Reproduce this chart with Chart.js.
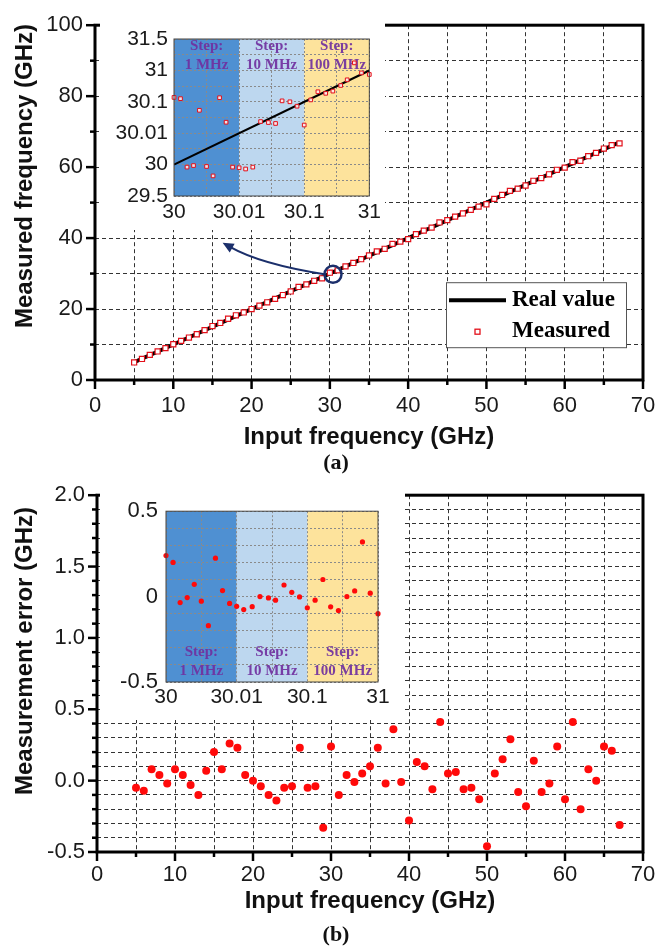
<!DOCTYPE html>
<html>
<head>
<meta charset="utf-8">
<script src="https://cdn.jsdelivr.net/npm/chart.js@4.4.1/dist/chart.umd.min.js"></script>
<style>
  html, body { margin: 0; padding: 0; background: #fff; }
  #wrap { position: relative; width: 670px; height: 948px; overflow: hidden; background: #fff; }
  canvas { position: absolute; }
  #insetA, #insetB { background: #fff; }
</style>
</head>
<body>
<div id="wrap">
  <canvas id="chartB" width="670" height="478" style="left:0;top:470px;width:670px;height:478px"></canvas>
  <canvas id="chartA" width="670" height="480" style="left:0;top:0;width:670px;height:480px"></canvas>
  <canvas id="insetA" width="285" height="212" style="left:100px;top:18px;width:285px;height:212px"></canvas>
  <canvas id="insetB" width="305" height="230" style="left:100px;top:490px;width:305px;height:230px"></canvas>
</div>
<script>
// ---- data ----
const inputFreq = [5,6,7,8,9,10,11,12,13,14,15,16,17,18,19,20,21,22,23,24,25,26,27,28,29,30,31,32,33,34,35,36,
  37,38,39,40,41,42,43,44,45,46,47,48,49,50,51,52,53,54,55,56,57,58,59,60,61,62,63,64,65,66,67];
const measuredFreq = [4.95,5.93,7.08,8.04,8.98,10.08,11.04,11.97,12.9,14.07,15.2,16.08,17.26,18.23,19.04,20,
  20.96,21.9,22.86,23.95,24.96,26.23,26.95,27.96,28.67,30.24,30.9,32.04,32.99,34.05,35.1,36.23,36.98,38.36,
  38.99,39.72,41.13,42.1,42.94,44.41,45.05,46.06,46.94,47.95,48.87,49.54,51.05,52.15,53.29,53.92,54.82,56.14,
  56.92,57.98,59.24,59.87,61.41,61.8,63.08,64,65.24,66.21,66.69];
const measError = [-0.05,-0.07,0.08,0.04,-0.02,0.08,0.04,-0.03,-0.10,0.07,0.20,0.08,0.26,0.23,0.04,0.00,-0.04,
  -0.10,-0.14,-0.05,-0.04,0.23,-0.05,-0.04,-0.33,0.24,-0.10,0.04,-0.01,0.05,0.10,0.23,-0.02,0.36,-0.01,-0.28,
  0.13,0.10,-0.06,0.41,0.05,0.06,-0.06,-0.05,-0.13,-0.46,0.05,0.15,0.29,-0.08,-0.18,0.14,-0.08,-0.02,0.24,
  -0.13,0.41,-0.20,0.08,0.00,0.24,0.21,-0.31];
const realX = [5, 67];
const realY = [5, 67];

// insets: x is an index along the segmented axis (0..3), ticks below
const insetXTicks = ['30', '30.01', '30.1', '31'];
const insetAYTicks = ['29.5', '30', '30.01', '30.1', '31', '31.5'];
const bandEdges = [0, 1, 2, 3];
const bandLabels = ['1 MHz', '10 MHz', '100 MHz'];
const bandColors = ['#4f90d2', '#bdd7ef', '#fde39c'];

const insetAX = [0,0.1,0.2,0.3,0.39,0.5,0.6,0.7,0.8,0.9,1.0,1.1,1.21,1.33,1.45,1.56,1.66,1.78,1.89,2.0,2.1,
  2.21,2.33,2.44,2.56,2.66,2.77,2.88,3.0];
const insetAY = [3.14,3.10,0.92,0.97,2.73,0.94,0.64,3.13,2.35,0.92,0.90,0.86,0.92,2.37,2.34,2.31,3.03,3.00,
  2.86,2.26,3.06,3.32,3.27,3.34,3.52,3.70,4.24,3.92,3.87];
const insetARealX = [0, 3];
const insetARealY = [1, 4];

const insetBX = [0,0.1,0.2,0.3,0.4,0.5,0.6,0.7,0.8,0.9,1.0,1.1,1.22,1.33,1.45,1.55,1.67,1.78,1.89,2.0,2.11,
  2.22,2.33,2.44,2.56,2.67,2.78,2.89,3.0];
const insetBY = [0.24,0.20,-0.035,-0.006,0.072,-0.027,-0.17,0.225,0.035,-0.04,-0.057,-0.076,-0.059,0,-0.008,
  -0.021,0.068,0.025,-0.002,-0.066,-0.021,0.10,-0.06,-0.082,0,0.033,0.32,0.02,-0.10];

const SANS = "'Liberation Sans', Arial, sans-serif";
const SERIF = "'Liberation Serif', 'Times New Roman', serif";
Chart.defaults.font.family = SANS;
Chart.defaults.color = '#1a1a1a';

const pts = (xs, ys) => xs.map((x, i) => ({ x, y: ys[i] }));

// frame box + tick marks
const frame = {
  id: 'frame',
  afterDraw(chart, args, o) {
    const { ctx, chartArea: a, scales: { x, y } } = chart;
    ctx.save();
    ctx.strokeStyle = o.color;
    ctx.lineWidth = o.width;
    ctx.strokeRect(a.left, a.top, a.right - a.left, a.bottom - a.top);
    if (o.major) {
      ctx.lineWidth = 2.5;
      x.ticks.forEach(t => {
        const p = x.getPixelForValue(t.value);
        const len = t.label ? o.major : o.minor;
        ctx.beginPath(); ctx.moveTo(p, a.bottom); ctx.lineTo(p, a.bottom + len); ctx.stroke();
      });
      y.ticks.forEach(t => {
        const p = y.getPixelForValue(t.value);
        const len = t.label ? o.major : o.minor;
        ctx.beginPath(); ctx.moveTo(a.left, p); ctx.lineTo(a.left - len, p); ctx.stroke();
      });
    }
    ctx.restore();
  }
};

// free text: axis titles and panel tags
const texts = {
  id: 'texts',
  afterDraw(chart, args, o) {
    const { ctx } = chart;
    (o.items || []).forEach(t => {
      ctx.save();
      ctx.font = t.font;
      ctx.fillStyle = t.color || '#111';
      ctx.textAlign = 'center';
      ctx.textBaseline = 'middle';
      ctx.translate(t.x, t.y);
      if (t.rot) ctx.rotate(t.rot);
      ctx.fillText(t.text, 0, 0);
      ctx.restore();
    });
  }
};

// coloured step bands for the insets
const bands = {
  id: 'bands',
  beforeDraw(chart, args, o) {
    const { ctx, chartArea: a, scales: { x } } = chart;
    ctx.save();
    for (let i = 0; i < bandColors.length; i++) {
      const x0 = x.getPixelForValue(bandEdges[i]);
      const x1 = x.getPixelForValue(bandEdges[i + 1]);
      ctx.fillStyle = bandColors[i];
      ctx.fillRect(x0, a.top, x1 - x0, a.bottom - a.top);
    }
    ctx.restore();
  },
  beforeDatasetsDraw(chart, args, o) {
    const { ctx, chartArea: a, scales: { x } } = chart;
    ctx.save();
    ctx.font = 'bold 15px ' + SERIF;
    ctx.fillStyle = 'rgba(112,48,160,0.92)';
    ctx.textAlign = 'center';
    ctx.textBaseline = 'middle';
    for (let i = 0; i < bandLabels.length; i++) {
      const cx = (x.getPixelForValue(bandEdges[i]) + x.getPixelForValue(bandEdges[i + 1])) / 2;
      const y0 = o.top ? a.top + 7 : a.bottom - 30;
      ctx.fillText('Step:', cx, y0);
      ctx.fillText(bandLabels[i], cx, y0 + 19);
    }
    ctx.restore();
  }
};

// zoom circle + curved arrow, and the legend box of panel (a)
const annotate = {
  id: 'annotate',
  afterDatasetsDraw(chart, args, o) {
    const { ctx, chartArea: a, scales: { x, y } } = chart;
    const cx = x.getPixelForValue(o.circle[0]), cy = y.getPixelForValue(o.circle[1]);
    const tx = x.getPixelForValue(o.arrowTo[0]), ty = y.getPixelForValue(o.arrowTo[1]);
    const qx = x.getPixelForValue(o.bend[0]), qy = y.getPixelForValue(o.bend[1]);
    ctx.save();
    ctx.strokeStyle = '#1b2f6b';
    ctx.fillStyle = '#1b2f6b';
    ctx.lineWidth = 2.5;
    ctx.beginPath(); ctx.arc(cx, cy, 8.5, 0, Math.PI * 2); ctx.stroke();
    const ang = Math.atan2(ty - qy, tx - qx);
    const bx = tx - 9 * Math.cos(ang), by = ty - 9 * Math.sin(ang);
    ctx.lineWidth = 2;
    ctx.beginPath(); ctx.moveTo(cx - 8.5, cy); ctx.quadraticCurveTo(qx, qy, bx, by); ctx.stroke();
    ctx.beginPath();
    ctx.moveTo(tx, ty);
    ctx.lineTo(tx - 11 * Math.cos(ang) + 5 * Math.sin(ang), ty - 11 * Math.sin(ang) - 5 * Math.cos(ang));
    ctx.lineTo(tx - 11 * Math.cos(ang) - 5 * Math.sin(ang), ty - 11 * Math.sin(ang) + 5 * Math.cos(ang));
    ctx.closePath(); ctx.fill();

    // legend
    const ds = chart.data.datasets;
    const lx = a.right - 197, ly = a.top + 257;
    ctx.fillStyle = '#fff';
    ctx.fillRect(lx, ly, 180, 65);
    ctx.strokeStyle = '#555';
    ctx.lineWidth = 1;
    ctx.strokeRect(lx + 0.5, ly + 0.5, 180, 65);
    ctx.font = 'bold 23px ' + SERIF;
    ctx.textBaseline = 'middle';
    ctx.textAlign = 'left';
    ctx.fillStyle = '#000';
    ctx.strokeStyle = '#000';
    ctx.lineWidth = 4;
    ctx.beginPath(); ctx.moveTo(lx + 3, ly + 18); ctx.lineTo(lx + 60, ly + 18); ctx.stroke();
    ctx.fillText(ds[1].label, lx + 66, ly + 18);
    ctx.strokeStyle = ds[0].borderColor;
    ctx.lineWidth = 1.3;
    ctx.strokeRect(lx + 29, ly + 47, 5, 5);
    ctx.fillText(ds[0].label, lx + 66, ly + 49);
    ctx.restore();
  }
};

const fixW = w => s => { s.width = w; };
const fixH = h => s => { s.height = h; };

const gridMain = { color: '#333', lineWidth: 1, drawTicks: false };
const dashMain = { display: false, dash: [4, 3] };

// ---- panel (a) ----
new Chart(document.getElementById('chartA'), {
  type: 'scatter',
  data: {
    datasets: [
      {
        label: 'Measured',
        data: pts(inputFreq, measuredFreq),
        pointStyle: 'rect',
        pointRadius: 3.6,
        borderColor: '#e3101a',
        backgroundColor: '#ffffff',
        borderWidth: 1.2,
        order: 1
      },
      {
        label: 'Real value',
        type: 'line',
        data: pts(realX, realY),
        borderColor: '#000',
        borderWidth: 4,
        pointRadius: 0,
        order: 2
      }
    ]
  },
  options: {
    responsive: false,
    animation: false,
    events: [],
    layout: { padding: { top: 16, right: 27, left: 0, bottom: 0 } },
    plugins: {
      legend: { display: false },
      tooltip: { enabled: false },
      frame: { color: '#000', width: 3, major: 9, minor: 5 },
      annotate: { circle: [30.4, 29.8], arrowTo: [16.3, 38.7], bend: [21.1, 32.7] },
      texts: {
        items: [
          { text: 'Input frequency (GHz)', x: 369, y: 437, font: 'bold 24px ' + SANS },
          { text: 'Measured frequency (GHz)', x: 25, y: 176, rot: -Math.PI / 2, font: 'bold 24px ' + SANS },
          { text: '(a)', x: 336, y: 463, font: 'bold 22px ' + SERIF }
        ]
      }
    },
    scales: {
      x: {
        type: 'linear', min: 0, max: 70,
        afterFit: fixH(100),
        grid: gridMain, border: dashMain,
        ticks: { stepSize: 5, autoSkip: false, maxRotation: 0, padding: 13, font: { size: 22 },
          callback: v => (v % 10 === 0 ? String(v) : '') }
      },
      y: {
        min: 0, max: 100,
        afterFit: fixW(95),
        grid: gridMain, border: dashMain,
        ticks: { stepSize: 10, autoSkip: false, padding: 12, font: { size: 22 },
          callback: v => (v % 20 === 0 ? String(v) : '') }
      }
    }
  },
  plugins: [frame, annotate, texts]
});

// ---- panel (b) ----
new Chart(document.getElementById('chartB'), {
  type: 'scatter',
  data: {
    datasets: [{
      label: 'Measurement error',
      data: pts(inputFreq, measError),
      pointRadius: 4,
      backgroundColor: '#ff0a0a',
      borderWidth: 0
    }]
  },
  options: {
    responsive: false,
    animation: false,
    events: [],
    layout: { padding: { top: 17, right: 27, left: 0, bottom: 0 } },
    plugins: {
      legend: { display: false },
      tooltip: { enabled: false },
      frame: { color: '#000', width: 3, major: 9, minor: 5 },
      texts: {
        items: [
          { text: 'Input frequency (GHz)', x: 370, y: 431, font: 'bold 24px ' + SANS },
          { text: 'Measurement error (GHz)', x: 25, y: 181, rot: -Math.PI / 2, font: 'bold 24px ' + SANS },
          { text: '(b)', x: 336, y: 465, font: 'bold 22px ' + SERIF }
        ]
      }
    },
    scales: {
      x: {
        type: 'linear', min: 0, max: 70,
        afterFit: fixH(96),
        grid: gridMain, border: dashMain,
        ticks: { stepSize: 5, autoSkip: false, maxRotation: 0, padding: 10, font: { size: 22 },
          callback: v => (v % 10 === 0 ? String(v) : '') }
      },
      y: {
        min: -0.5, max: 2.0,
        afterFit: fixW(97),
        grid: gridMain, border: dashMain,
        ticks: { stepSize: 0.1, autoSkip: false, padding: 12, font: { size: 22 },
          callback: v => { const k = Math.round(v * 10); return k % 5 === 0 ? (k / 10).toFixed(1) : ''; } }
      }
    }
  },
  plugins: [frame, texts]
});

// ---- insets ----
const insetGrid = { color: '#8a8a8a', lineWidth: 1, drawTicks: false };
const insetBorder = { display: false, dash: [2, 2] };

new Chart(document.getElementById('insetA'), {
  type: 'scatter',
  data: {
    datasets: [
      {
        label: 'Measured',
        data: pts(insetAX, insetAY),
        pointStyle: 'rect',
        pointRadius: 2.6,
        borderColor: '#e3101a',
        backgroundColor: 'rgba(255,235,235,0.9)',
        borderWidth: 1,
        clip: false,
        order: 1
      },
      {
        label: 'Real value',
        type: 'line',
        data: pts(insetARealX, insetARealY),
        borderColor: '#000',
        borderWidth: 2.2,
        pointRadius: 0,
        order: 2
      }
    ]
  },
  options: {
    responsive: false,
    animation: false,
    events: [],
    layout: { padding: { top: 21, right: 13, left: 0, bottom: 0 } },
    plugins: {
      legend: { display: false },
      tooltip: { enabled: false },
      bands: { top: true },
      frame: { color: '#444', width: 1 }
    },
    scales: {
      x: {
        type: 'linear', min: 0, max: 3,
        afterFit: fixH(34),
        grid: insetGrid, border: insetBorder,
        ticks: { stepSize: 0.5, autoSkip: false, maxRotation: 0, padding: 4, font: { size: 21 },
          callback: v => (Number.isInteger(v) ? insetXTicks[v] : '') }
      },
      y: {
        min: 0, max: 5,
        afterFit: fixW(74),
        grid: insetGrid, border: insetBorder,
        ticks: { stepSize: 0.5, autoSkip: false, padding: 6, font: { size: 21 },
          callback: v => (Number.isInteger(v) ? insetAYTicks[v] : '') }
      }
    }
  },
  plugins: [bands, frame]
});

new Chart(document.getElementById('insetB'), {
  type: 'scatter',
  data: {
    datasets: [{
      label: 'Measurement error',
      data: pts(insetBX, insetBY),
      pointRadius: 2.6,
      backgroundColor: '#ff0a0a',
      borderWidth: 0,
      clip: false
    }]
  },
  options: {
    responsive: false,
    animation: false,
    events: [],
    layout: { padding: { top: 21, right: 27, left: 0, bottom: 0 } },
    plugins: {
      legend: { display: false },
      tooltip: { enabled: false },
      bands: { top: false },
      frame: { color: '#444', width: 1 }
    },
    scales: {
      x: {
        type: 'linear', min: 0, max: 3,
        afterFit: fixH(38),
        grid: insetGrid, border: insetBorder,
        ticks: { stepSize: 0.5, autoSkip: false, maxRotation: 0, padding: 3, font: { size: 21 },
          callback: v => (Number.isInteger(v) ? insetXTicks[v] : '') }
      },
      y: {
        min: -0.5, max: 0.5,
        afterFit: fixW(66),
        grid: insetGrid, border: insetBorder,
        ticks: { stepSize: 0.1, autoSkip: false, padding: 8, font: { size: 22 },
          callback: v => { const k = Math.round(v * 10); return k % 5 === 0 ? String(k / 10) : ''; } }
      }
    }
  },
  plugins: [bands, frame]
});
</script>
</body>
</html>
